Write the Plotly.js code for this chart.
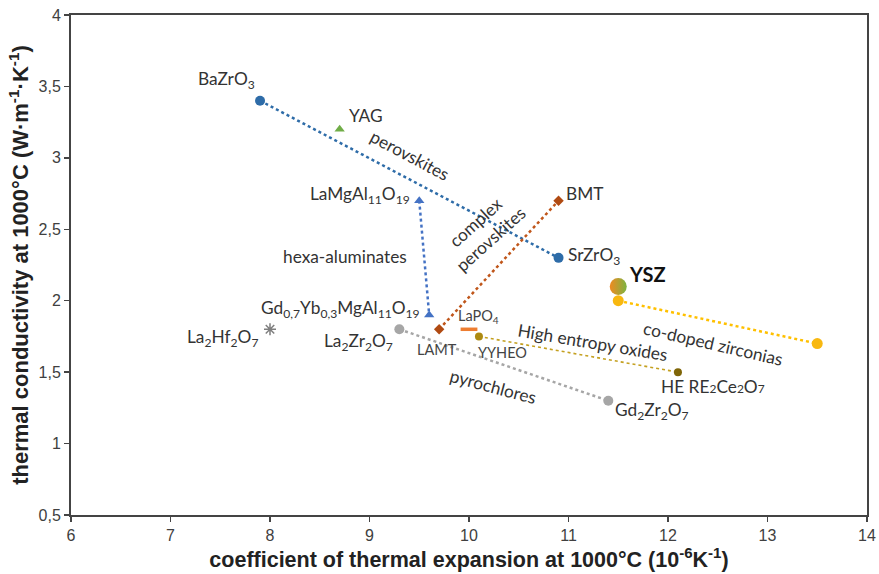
<!DOCTYPE html>
<html>
<head>
<meta charset="utf-8">
<script src="https://cdn.plot.ly/plotly-3.0.1.min.js"></script>
<style>html,body{margin:0;padding:0;background:#fff;}#chart{width:879px;height:574px;}</style>
</head>
<body>
<div id="chart"></div>
<script>
// ---- data (CTE at 1000°C in 1e-6/K, thermal conductivity in W/m/K) ----
const perovskiteX = [7.9, 10.9];   // BaZrO3, SrZrO3
const perovskiteY = [3.4, 2.3];
const yagX = [8.7];
const yagY = [3.2];
const hexaX = [9.5, 9.6];          // LaMgAl11O19, Gd0.7Yb0.3MgAl11O19
const hexaY = [2.7, 1.9];
const complexX = [9.7, 10.9];      // LAMT, BMT
const complexY = [1.8, 2.7];
const lapo4X = [10.0];
const lapo4Y = [1.8];
const heX = [10.1, 12.1];          // YYHEO, HE RE2Ce2O7
const heY = [1.75, 1.5];
const pyroX = [9.3, 11.4];         // La2Zr2O7, Gd2Zr2O7
const pyroY = [1.8, 1.3];
const la2hf2o7X = [8.0];
const la2hf2o7Y = [1.8];
const codopedX = [11.5, 13.5];
const codopedY = [2.0, 1.7];
const yszX = [11.5];
const yszY = [2.1];

const xTickVals = [6, 7, 8, 9, 10, 11, 12, 13, 14];
const yTickVals = [0.5, 1, 1.5, 2, 2.5, 3, 3.5, 4];

const LF = 'Lato, "Open Sans", sans-serif';

function series(x, y, color, symbol, size, lineWidth, markerColor) {
  return {
    x: x, y: y, type: 'scatter', mode: 'lines+markers', hoverinfo: 'skip',
    line: {color: color, width: lineWidth, dash: 'dot'},
    marker: {color: markerColor || color, symbol: symbol, size: size}
  };
}

const traces = [
  series(perovskiteX, perovskiteY, '#2e6ca8', 'circle', 10, 2.5),
  series(hexaX, hexaY, '#4472c4', 'triangle-up', 9, 2.5),
  series(complexX, complexY, '#c0561a', 'diamond', 8, 2.5, '#b04a12'),
  series(heX, heY, '#c4a020', 'circle', 8, 1.6, ['#ad8a12', '#7f6508']),
  series(pyroX, pyroY, '#a6a6a6', 'circle', 10, 2.5),
  series(codopedX, codopedY, '#ffc000', 'circle', 11, 2.5, '#f8b810'),
  {x: yagX, y: yagY, type: 'scatter', mode: 'markers', hoverinfo: 'skip',
   marker: {color: '#70ad47', symbol: 'triangle-up', size: 9}},
  {x: lapo4X, y: lapo4Y, type: 'scatter', mode: 'markers', hoverinfo: 'skip',
   marker: {symbol: 'line-ew', size: 12, color: '#ed7d31', line: {color: '#ed7d31', width: 3.5}}},
  {x: la2hf2o7X, y: la2hf2o7Y, type: 'scatter', mode: 'markers', hoverinfo: 'skip',
   marker: {symbol: 'asterisk-open', size: 10, color: '#7f7f7f', line: {color: '#7f7f7f', width: 1.5}}},
  {x: yszX, y: yszY, type: 'scatter', mode: 'markers', hoverinfo: 'skip',
   marker: {symbol: 'circle', size: 17, color: '#f08a20',
            gradient: {type: 'horizontal', color: '#7cb342'}}}
];

function lab(text, x, y, opts) {
  return Object.assign({
    text: text, x: x, y: y, xref: 'x', yref: 'y', showarrow: false,
    font: {family: LF, size: 17.3, color: '#333'}, xanchor: 'center', yanchor: 'middle'
  }, opts || {});
}
const small = {family: LF, size: 14.5, color: '#444'};

const annotations = [
  lab('BaZrO<sub>3</sub>', 7.56, 3.545),
  lab('YAG', 8.77, 3.30, {xanchor: 'left'}),
  lab('perovskites', 9.41, 3.02, {textangle: 28}),
  lab('LaMgAl<sub>11</sub>O<sub>19</sub>', 9.43, 2.74, {xanchor: 'right'}),
  lab('hexa-aluminates', 8.75, 2.31),
  lab('Gd<sub>0,7</sub>Yb<sub>0,3</sub>MgAl<sub>11</sub>O<sub>19</sub>', 8.71, 1.94),
  lab('La<sub>2</sub>Hf<sub>2</sub>O<sub>7</sub>', 7.52, 1.74),
  lab('La<sub>2</sub>Zr<sub>2</sub>O<sub>7</sub>', 8.89, 1.71),
  lab('LAMT', 9.68, 1.66, {font: small}),
  lab('LaPO<sub>4</sub>', 10.10, 1.887, {font: small}),
  lab('YYHEO', 10.34, 1.64, {font: small}),
  lab('BMT', 10.95, 2.75, {xanchor: 'left'}),
  lab('SrZrO<sub>3</sub>', 10.97, 2.31, {xanchor: 'left'}),
  lab('complex<br>perovskites', 10.14, 2.49, {textangle: -42}),
  lab('High entropy oxides', 11.25, 1.71, {textangle: 9.5}),
  lab('HE RE<span style="font-size:12px">2</span>Ce<span style="font-size:12px">2</span>O<span style="font-size:12px">7</span>', 12.45, 1.40),
  lab('Gd<sub>2</sub>Zr<sub>2</sub>O<sub>7</sub>', 11.45, 1.23, {xanchor: 'left'}),
  lab('pyrochlores', 10.24, 1.40, {textangle: 15}),
  lab('co-doped zirconias', 12.45, 1.70, {textangle: 13}),
  lab('<b>YSZ</b>', 11.59, 2.19, {xanchor: 'left', font: {family: LF, size: 20, color: '#111'}})
];

const axisCommon = {
  showline: true, mirror: true, linecolor: '#444', linewidth: 2,
  showgrid: false, zeroline: false, ticks: 'outside', ticklen: 5,
  tickcolor: '#444', tickwidth: 1.5,
  tickfont: {family: '"Liberation Sans Narrow", "Liberation Sans", Arial, sans-serif', size: 16, color: '#404040'}
};

const layout = {
  width: 879, height: 574,
  margin: {l: 71, r: 12, t: 15, b: 59},
  paper_bgcolor: '#fff', plot_bgcolor: '#fff',
  showlegend: false,
  separators: ', ',
  xaxis: Object.assign({}, axisCommon, {
    range: [6, 14], tickvals: xTickVals,
    title: {text: 'coefficient of thermal expansion at 1000°C (10<sup>-6</sup>K<sup>-1</sup>)',
            font: {family: '"Liberation Sans Narrow", "Liberation Sans", Arial, sans-serif', size: 21.5, color: '#222', weight: 'bold'},
            standoff: 1}
  }),
  yaxis: Object.assign({}, axisCommon, {
    range: [0.5, 4], tickvals: yTickVals,
    title: {text: 'thermal conductivity at 1000°C (W·m<sup>-1</sup>·K<sup>-1</sup>)',
            font: {family: '"Liberation Sans", Arial, sans-serif', size: 22, color: '#222', weight: 'bold'},
            standoff: 4}
  }),
  annotations: annotations
};

Plotly.newPlot('chart', traces, layout, {displayModeBar: false, staticPlot: true});
</script>
</body>
</html>
